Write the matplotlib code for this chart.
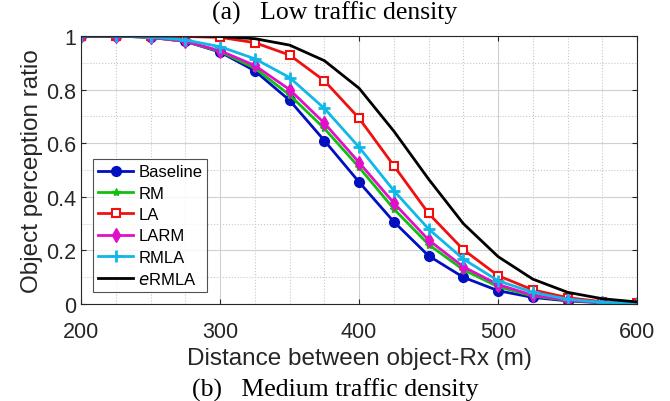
import numpy as np
import matplotlib
matplotlib.use("Agg")
import matplotlib.pyplot as plt
from matplotlib.ticker import MultipleLocator

plt.rcParams["font.family"] = ["Liberation Sans", "DejaVu Sans"]

# distance (m)
dist = [200, 225, 250, 275, 300, 325, 350, 375, 400, 425, 450, 475, 500, 525, 550, 575, 600]

baseline = [1.0, 1.0, 0.995, 0.98, 0.94, 0.87, 0.76, 0.61, 0.455, 0.307, 0.18, 0.10, 0.05, 0.025, 0.012, 0.005, 0.002]
rm       = [1.0, 1.0, 0.995, 0.98, 0.942, 0.88, 0.78, 0.655, 0.51, 0.355, 0.222, 0.128, 0.065, 0.03, 0.014, 0.006, 0.002]
la       = [1.0, 1.0, 1.0, 0.998, 0.995, 0.975, 0.929, 0.833, 0.693, 0.516, 0.338, 0.203, 0.106, 0.053, 0.024, 0.009, 0.003]
larm     = [1.0, 1.0, 0.995, 0.98, 0.945, 0.89, 0.80, 0.675, 0.528, 0.377, 0.239, 0.139, 0.073, 0.033, 0.015, 0.006, 0.002]
rmla     = [1.0, 1.0, 0.997, 0.985, 0.96, 0.915, 0.845, 0.73, 0.585, 0.423, 0.28, 0.168, 0.087, 0.044, 0.018, 0.007, 0.003]
ermla    = [1.0, 1.0, 1.0, 1.0, 0.998, 0.99, 0.966, 0.908, 0.805, 0.645, 0.466, 0.30, 0.177, 0.093, 0.044, 0.02, 0.008]

yticks = [0, 0.2, 0.4, 0.6, 0.8, 1.0]
ytick_labels = ["0", "0.2", "0.4", "0.6", "0.8", "1"]

fig = plt.figure(figsize=(6.7, 4.02), dpi=100)
ax = fig.add_axes([0.121, 0.241, 0.830, 0.667])

ax.plot(dist, baseline, "-o", color="#0010c0", lw=2, ms=7, label="Baseline")
ax.plot(dist, rm, "-*", color="#10c010", lw=2, ms=6, label="RM")
ax.plot(dist, la, "-s", color="#f01010", lw=2, ms=6, mfc="white", mew=1.5, label="LA")
ax.plot(dist, larm, "-d", color="#e010c8", lw=2, ms=7, label="LARM")
ax.plot(dist, rmla, "-+", color="#10b8e8", lw=2, ms=8, mew=2, label="RMLA")
ax.plot(dist, ermla, "-", color="black", lw=2, label="$e$RMLA")

ax.set_xlim(200, 600)
ax.set_ylim(0, 1)
ax.xaxis.set_major_locator(MultipleLocator(100))
ax.xaxis.set_minor_locator(MultipleLocator(25))
ax.yaxis.set_minor_locator(MultipleLocator(0.1))
ax.set_yticks(yticks)
ax.set_yticklabels(ytick_labels)
ax.grid(which="major", color="#d0d0d0", lw=0.8, ls="-")
ax.grid(which="minor", color="#c8c8c8", lw=0.8, ls=":")
ax.set_axisbelow(True)
ax.tick_params(which="both", direction="in", top=True, right=True, labelsize=15.5,
               colors="#262626", labelcolor="#262626")
ax.tick_params(axis="x", pad=12)
ax.tick_params(which="minor", length=0)
for s in ax.spines.values():
    s.set_color("#262626")
    s.set_linewidth(0.8)

ax.set_xlabel("Distance between object-Rx (m)", fontsize=17.5, color="#262626", labelpad=4)
ax.set_ylabel("Object perception ratio", fontsize=17.5, color="#262626", labelpad=2)

leg = ax.legend(loc="lower left", bbox_to_anchor=(0.022, 0.045), fontsize=12,
                handlelength=2.1, handletextpad=0.3, labelspacing=0.38,
                fancybox=False, edgecolor="#262626", borderpad=0.3,
                borderaxespad=0)
leg.get_frame().set_linewidth(0.8)

fig.text(0.5, 0.997, "(a)   Low traffic density", ha="center", va="top",
         fontsize=18.5, family="Liberation Serif")
fig.text(0.5, 0.0, "(b)   Medium traffic density", ha="center", va="bottom",
         fontsize=18.5, family="Liberation Serif")

fig.savefig("out.png", dpi=100)
